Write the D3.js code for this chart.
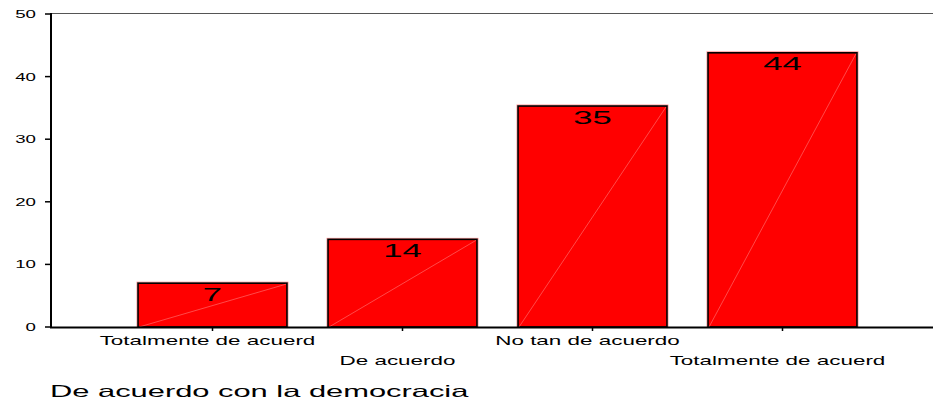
<!DOCTYPE html>
<html>
<head>
<meta charset="utf-8">
<script src="https://cdn.jsdelivr.net/npm/d3@7"></script>
<style>
  body { margin: 0; background: #fff; }
  svg { display: block; font-family: "Liberation Sans", Arial, sans-serif; }
</style>
</head>
<body>
<svg id="chart" width="933" height="407"></svg>
<script>
// dane
const kategorie = ["Totalmente de acuerd", "De acuerdo", "No tan de acuerdo", "Totalmente de acuerd "];
const etykietyKat = ["Totalmente de acuerd", "De acuerdo", "No tan de acuerdo", "Totalmente de acuerd"];
const wartosci = [7.0, 14.0, 35.3, 43.8];
const etykietyWart = ["7", "14", "35", "44"];
const yTicki = [0, 10, 20, 30, 40, 50];
const tytul = "De acuerdo con la democracia";

const WIDTH = 933, HEIGHT = 407;
const SX = 1.87; // tekst rozciągnięty w poziomie
const svg = d3.select("#chart");

const x = d3.scaleBand()
  .domain(kategorie)
  .range([51, 944])
  .paddingInner(0.216)
  .paddingOuter(0.458);

const y = d3.scaleLinear().domain([0, 50]).range([327, 14]);

// funkcja rysująca rozciągnięty tekst
function tekst(g, tx, ty, txt, size, anchor) {
  return g.append("text")
    .attr("transform", `translate(${tx},${ty}) scale(${SX},1)`)
    .attr("text-anchor", anchor)
    .attr("font-size", size)
    .attr("fill", "#000")
    .text(txt);
}

// górna linia ramki
svg.append("line")
  .attr("x1", 51).attr("x2", WIDTH)
  .attr("y1", 13.5).attr("y2", 13.5)
  .attr("stroke", "#555").attr("stroke-width", 1.2);

// słupki
const slupki = svg.append("g");
kategorie.forEach((k, i) => {
  const x0 = x(k), w = x.bandwidth(), y0 = y(wartosci[i]), h = y(0) - y(wartosci[i]);
  slupki.append("rect")
    .attr("x", x0 - 1).attr("y", y0 - 1).attr("width", w + 2).attr("height", h + 1)
    .attr("fill", "none").attr("stroke", "#ff9090").attr("stroke-width", 1);
  slupki.append("rect")
    .attr("x", x0).attr("y", y0).attr("width", w).attr("height", h)
    .attr("fill", "#ff0000").attr("stroke", "#000").attr("stroke-width", 1.6);
  slupki.append("line")
    .attr("x1", x0 + 1).attr("y1", y(0))
    .attr("x2", x0 + w - 1).attr("y2", y0 + 1)
    .attr("stroke", "#ff7a7a").attr("stroke-width", 0.6);
  tekst(slupki, x0 + w / 2, y0 + 17.5, etykietyWart[i], 18.5, "middle");
});

// oś Y
const osY = svg.append("g");
osY.append("line")
  .attr("x1", 51).attr("x2", 51).attr("y1", 13).attr("y2", 328)
  .attr("stroke", "#000").attr("stroke-width", 2);
yTicki.forEach(t => {
  osY.append("line")
    .attr("x1", 45).attr("x2", 51).attr("y1", y(t)).attr("y2", y(t))
    .attr("stroke", "#000").attr("stroke-width", 1.5);
  tekst(osY, 36, y(t) + 4, String(t), 10, "end");
});

// oś X
const osX = svg.append("g");
osX.append("line")
  .attr("x1", 50).attr("x2", WIDTH).attr("y1", 327.5).attr("y2", 327.5)
  .attr("stroke", "#000").attr("stroke-width", 1.8);
kategorie.forEach((k, i) => {
  const cx = x(k) + x.bandwidth() / 2;
  osX.append("line")
    .attr("x1", cx).attr("x2", cx).attr("y1", 327).attr("y2", 331)
    .attr("stroke", "#000").attr("stroke-width", 1.5);
  tekst(osX, cx - 5, i % 2 === 0 ? 345 : 365, etykietyKat[i], 12, "middle");
});

// tytuł osi
tekst(svg, 50, 397, tytul, 16.5, "start");
</script>
</body>
</html>
